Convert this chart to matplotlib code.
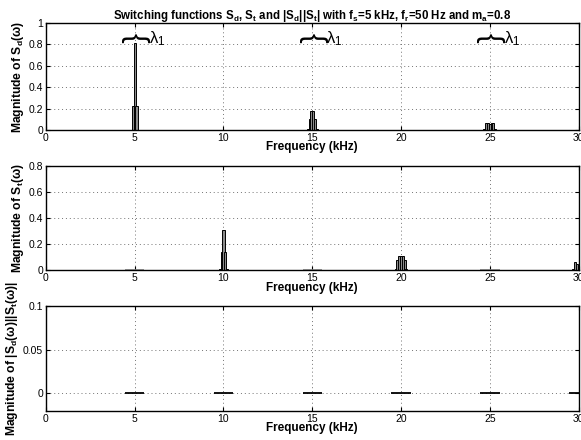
import numpy as np
import matplotlib
matplotlib.use("Agg")
import matplotlib.pyplot as plt

plt.rcParams.update({"font.family": "Liberation Sans", "mathtext.default": "regular",
                     "xtick.direction": "in", "ytick.direction": "in"})

# ── spectra (kHz, magnitude) ────────────────────────────────────────────────────
sd_freq = [4.9, 5.0, 5.1,
           14.75, 14.85, 14.95, 15.05, 15.15, 15.25,
           24.7, 24.8, 24.9, 25.0, 25.1, 25.2, 25.3]
sd_mag  = [0.22, 0.81, 0.22,
           0.01, 0.10, 0.18, 0.18, 0.10, 0.01,
           0.01, 0.07, 0.07, 0.06, 0.07, 0.07, 0.01]

st_freq = [9.8, 9.9, 10.0, 10.1, 10.2,
           19.7, 19.8, 19.9, 20.0, 20.1, 20.2, 20.3,
           29.7, 29.8, 29.9]
st_mag  = [0.01, 0.14, 0.31, 0.14, 0.01,
           0.01, 0.08, 0.11, 0.11, 0.11, 0.08, 0.01,
           0.01, 0.06, 0.05]
st_flat = [5, 15, 25]              # near-zero strips in S_t

prod_flat = [5, 10, 15, 20, 25, 30]  # |Sd||St| is ~0 everywhere

xticks = [0, 5, 10, 15, 20, 25, 30]
brace_at = [5, 15, 25]

TITLE = ("Switching functions S$_d$, S$_t$ and |S$_d$||S$_t$| with f$_s$=5 kHz, "
         "f$_r$=50 Hz and m$_a$=0.8")

fig = plt.figure(figsize=(5.81, 4.40), dpi=100)
ax1 = fig.add_axes([0.079, 0.7045, 0.917, 0.243])
ax2 = fig.add_axes([0.079, 0.386, 0.917, 0.236])
ax3 = fig.add_axes([0.079, 0.066, 0.917, 0.239])

def style(ax, ylim, yticks, ylabel):
    ax.set_xlim(0, 30); ax.set_ylim(*ylim)
    ax.set_xticks(xticks); ax.set_yticks(yticks)
    ax.grid(True, linestyle=(0, (1, 3)), color="0.45", lw=0.7)
    ax.set_axisbelow(True)
    ax.tick_params(labelsize=7.5, pad=2, length=3, top=True, right=True)
    for s in ax.spines.values():
        s.set_linewidth(1.0)
    ax.set_xlabel("Frequency (kHz)", fontsize=8.5, fontweight="bold", labelpad=-1)
    ax.set_ylabel(ylabel, fontsize=8.7, fontweight="bold", labelpad=2)

def strips(ax, centres, color, lw):
    for c in centres:
        f = np.arange(c - 0.5, c + 0.51, 0.1)
        ax.bar(f, np.zeros_like(f), width=0.1, color=color, edgecolor=color, lw=lw)

# panel 1: S_d
ax1.bar(sd_freq, sd_mag, width=0.12, color="0.55", edgecolor="black", lw=0.7)
style(ax1, (0, 1), [0, 0.2, 0.4, 0.6, 0.8, 1], r"Magnitude of S$_d$($\omega$)")
ax1.set_yticklabels(["0", "0.2", "0.4", "0.6", "0.8", "1"])
for f in brace_at:
    ax1.text(f, 0.86, "{", rotation=-90, fontsize=21, ha="center", va="center")
    ax1.text(f + 0.8, 0.85, r"$\lambda_1$", fontsize=12, ha="left", va="center")
ax1.set_title(TITLE, fontsize=8.3, fontweight="bold", pad=3)

# panel 2: S_t
strips(ax2, st_flat, "0.55", 1.2)
ax2.bar(st_freq, st_mag, width=0.12, color="0.55", edgecolor="black", lw=0.7)
style(ax2, (0, 0.8), [0, 0.2, 0.4, 0.6, 0.8], r"Magnitude of S$_t$($\omega$)")
ax2.set_yticklabels(["0", "0.2", "0.4", "0.6", "0.8"])

# panel 3: |S_d||S_t|
strips(ax3, prod_flat, "black", 1.3)
style(ax3, (-0.02, 0.1), [0, 0.05, 0.1], r"Magnitude of |S$_d$($\omega$)||S$_t$($\omega$)|")
ax3.set_yticklabels(["0", "0.05", "0.1"])

fig.savefig("out.png", dpi=100, facecolor="white")
